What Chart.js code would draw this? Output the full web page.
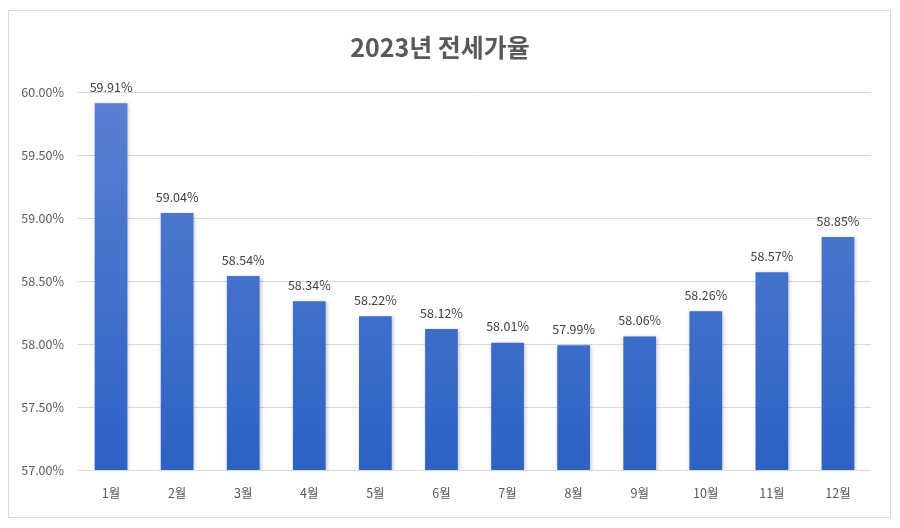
<!DOCTYPE html>
<html>
<head>
<meta charset="utf-8">
<script src="https://cdn.jsdelivr.net/npm/chart.js@4.4.1/dist/chart.umd.min.js"></script>
<style>
  html, body { margin: 0; padding: 0; background: #ffffff; }
  #frame { position: absolute; left: 8px; top: 10px; width: 881px; height: 506px; border: 1px solid #d9d9d9; box-sizing: content-box; }
  #wrap { position: relative; width: 881px; height: 506px; }
</style>
</head>
<body>
<div id="frame"><div id="wrap"><canvas id="c"></canvas></div></div>
<script>
const chartTitle = '2023년 전세가율';
const categories = ['1월','2월','3월','4월','5월','6월','7월','8월','9월','10월','11월','12월'];
const values = [59.91, 59.04, 58.54, 58.34, 58.22, 58.12, 58.01, 57.99, 58.06, 58.26, 58.57, 58.85];
const yMin = 57, yMax = 60, yStep = 0.5;

const FONT = "'Noto Sans CJK KR', 'Noto Sans', sans-serif";

const labelPlugin = {
  id: 'valueLabels',
  afterDatasetsDraw(chart) {
    const ctx = chart.ctx;
    const meta = chart.getDatasetMeta(0);
    ctx.save();
    ctx.font = '12.5px ' + FONT;
    ctx.fillStyle = '#404040';
    ctx.textAlign = 'center';
    ctx.textBaseline = 'middle';
    meta.data.forEach((bar, i) => {
      ctx.fillText(values[i].toFixed(2) + '%', bar.x, bar.y - 16);
    });
    ctx.restore();
  }
};

const shadowPlugin = {
  id: 'barShadow',
  beforeDatasetsDraw(chart) {
    const ctx = chart.ctx;
    ctx.save();
    ctx.shadowColor = 'rgba(0,0,0,0.25)';
    ctx.shadowBlur = 4;
    ctx.shadowOffsetX = 1;
    ctx.shadowOffsetY = 1;
  },
  afterDatasetsDraw(chart) {
    chart.ctx.restore();
  }
};

new Chart(document.getElementById('c'), {
  type: 'bar',
  data: {
    labels: categories,
    datasets: [{
      data: values,
      backgroundColor: (context) => {
        const chart = context.chart;
        const area = chart.chartArea;
        if (!area) return '#4472c4';
        const g = chart.ctx.createLinearGradient(0, area.top, 0, area.bottom);
        g.addColorStop(0, '#5b80d3');
        g.addColorStop(1, '#2c62c4');
        return g;
      },
      borderWidth: 0,
      barPercentage: 0.495,
      categoryPercentage: 1.0
    }]
  },
  options: {
    responsive: true,
    maintainAspectRatio: false,
    animation: false,
    layout: { padding: { left: 0, right: 19, top: 0, bottom: 0 } },
    plugins: {
      legend: { display: false },
      tooltip: { enabled: false },
      title: {
        display: true,
        text: chartTitle,
        color: '#595959',
        font: { family: FONT, size: 25, weight: 'bold' },
        padding: { top: 21, bottom: 30 }
      }
    },
    scales: {
      x: {
        grid: { display: false, drawTicks: false },
        border: { display: false },
        ticks: { color: '#595959', font: { family: FONT, size: 12.5 }, padding: 16 }
      },
      y: {
        min: yMin, max: yMax,
        afterFit: (s) => { s.width = 69; },
        grid: { color: '#d9d9d9', drawTicks: false },
        border: { display: false },
        ticks: {
          stepSize: yStep,
          padding: 14,
          color: '#595959',
          font: { family: FONT, size: 12.5 },
          callback: (v) => Number(v).toFixed(2) + '%'
        }
      }
    }
  },
  plugins: [shadowPlugin, labelPlugin]
});
</script>
</body>
</html>
